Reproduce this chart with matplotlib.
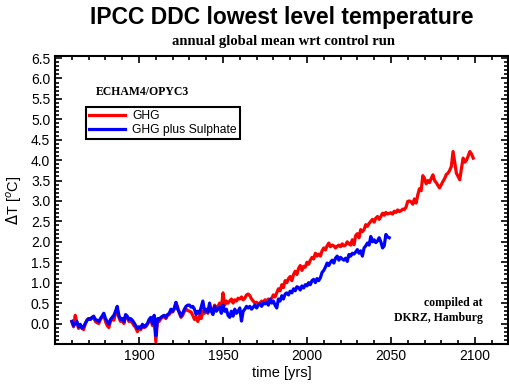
import numpy as np
import matplotlib
matplotlib.use("Agg")
import matplotlib.pyplot as plt
from matplotlib.ticker import MultipleLocator

# yearly global mean lowest-level temperature change (deg C)
ghg_years = np.arange(1860, 2100)
ghg = [
    0.05, -0.08, 0.20, 0.02, -0.12, -0.05, -0.10, -0.15, 0.00, 0.08,
    0.12, 0.10, 0.15, 0.14, 0.05, 0.02, 0.00, 0.10, 0.15, 0.22,
    0.05, -0.05, -0.10, 0.05, 0.12, 0.08, 0.25, 0.30, 0.15, 0.05,
    0.10, 0.00, 0.18, 0.15, 0.05, 0.08, 0.02, -0.05, -0.10, -0.20,
    -0.12, -0.15, -0.05, -0.10, -0.08, -0.02, 0.05, 0.10, -0.05, 0.15,
    -0.45, 0.10, 0.05, 0.12, 0.15, 0.18, 0.12, 0.20, 0.22, 0.30,
    0.28, 0.35, 0.50, 0.40, 0.25, 0.15, 0.20, 0.30, 0.35, 0.32,
    0.30, 0.28, 0.20, 0.10, 0.15, 0.05, 0.20, 0.12, 0.30, 0.25,
    0.32, 0.25, 0.40, 0.35, 0.30, 0.45, 0.38, 0.42, 0.50, 0.35,
    0.75, 0.45, 0.55, 0.50, 0.55, 0.60, 0.50, 0.58, 0.55, 0.62,
    0.60, 0.65, 0.58, 0.62, 0.70, 0.72, 0.68, 0.60, 0.55, 0.50,
    0.52, 0.48, 0.50, 0.55, 0.52, 0.58, 0.55, 0.60, 0.58, 0.62,
    0.70, 0.65, 0.75, 0.85, 0.80, 0.95, 0.88, 1.05, 1.00, 1.10,
    1.15, 1.05, 1.20, 1.28, 1.20, 1.35, 1.42, 1.30, 1.40, 1.38,
    1.50, 1.45, 1.55, 1.62, 1.58, 1.72, 1.65, 1.70, 1.65, 1.78,
    1.85, 1.80, 1.90, 1.97, 1.88, 1.92, 1.90, 1.85, 1.89, 1.92,
    1.88, 1.95, 1.90, 1.92, 2.00, 1.95, 1.92, 2.05, 1.93, 2.15,
    2.20, 2.10, 2.30, 2.25, 2.30, 2.42, 2.38, 2.45, 2.50, 2.55,
    2.48, 2.58, 2.62, 2.55, 2.62, 2.70, 2.65, 2.72, 2.68, 2.70,
    2.71, 2.68, 2.75, 2.72, 2.78, 2.74, 2.76, 2.80, 2.79, 2.85,
    2.99, 3.00, 2.98, 2.92, 3.05, 2.95, 3.15, 3.30, 3.25, 3.62,
    3.55, 3.42, 3.50, 3.45, 3.55, 3.64, 3.50, 3.45, 3.38, 3.32,
    3.40, 3.48, 3.55, 3.65, 3.68, 3.75, 3.85, 4.21, 3.95, 3.68,
    3.60, 3.52, 3.80, 4.05, 3.95, 4.00, 4.10, 4.21, 4.15, 4.05,
]

sul_years = np.arange(1860, 2050)
ghg_sul = [
    0.05, -0.05, 0.00, 0.05, -0.08, -0.02, -0.12, -0.08, 0.00, 0.08,
    0.12, 0.10, 0.15, 0.18, 0.10, 0.08, 0.05, 0.12, 0.18, 0.25,
    0.12, 0.05, -0.02, 0.10, 0.15, 0.20, 0.30, 0.42, 0.20, 0.10,
    0.12, 0.05, 0.22, 0.18, 0.10, 0.12, 0.08, 0.02, -0.05, -0.12,
    -0.08, -0.12, -0.02, -0.08, -0.05, 0.00, 0.10, 0.15, 0.00, 0.20,
    -0.30, 0.12, 0.10, 0.15, 0.18, 0.20, 0.15, 0.22, 0.25, 0.35,
    0.30, 0.38, 0.52, 0.35, 0.28, 0.18, 0.25, 0.35, 0.42, 0.45,
    0.45, 0.40, 0.42, 0.35, 0.22, 0.30, 0.25, 0.40, 0.55, 0.30,
    0.35, 0.28, 0.50, 0.30, 0.22, 0.42, 0.30, 0.35, 0.40, 0.25,
    0.45, 0.30, 0.35, 0.20, 0.15, 0.30, 0.18, 0.35, 0.25, 0.30,
    0.38, 0.06, 0.30, 0.35, 0.42, 0.38, 0.42, 0.35, 0.40, 0.45,
    0.38, 0.45, 0.48, 0.42, 0.50, 0.48, 0.52, 0.45, 0.59, 0.50,
    0.55, 0.45, 0.38, 0.60, 0.55, 0.68, 0.60, 0.72, 0.75, 0.70,
    0.79, 0.75, 0.85, 0.80, 0.90, 0.88, 0.82, 0.92, 0.87, 0.95,
    0.92, 1.00, 0.95, 1.05, 1.08, 1.00, 1.10, 1.05, 1.12, 1.25,
    1.30, 1.38, 1.48, 1.42, 1.50, 1.55, 1.48, 1.60, 1.65, 1.55,
    1.62, 1.58, 1.55, 1.60, 1.52, 1.69, 1.65, 1.72, 1.70, 1.75,
    1.81, 1.72, 1.78, 1.65, 1.85, 1.90, 1.97, 1.92, 2.13, 2.00,
    2.05, 1.98, 2.02, 2.10, 2.00, 1.85, 1.90, 2.18, 2.12, 2.10,
]

SANS = "Liberation Sans"
SERIF = "Liberation Serif"

fig = plt.figure(figsize=(5.10, 3.86), dpi=100)
ax = fig.add_axes([0.108, 0.109, 0.889, 0.746])

ax.plot(ghg_years, ghg, color="#ff0000", lw=2.3, label="GHG")
ax.plot(sul_years, ghg_sul, color="#0000ff", lw=2.3, label="GHG plus Sulphate")

ax.set_xlim(1850, 2120)
ax.set_ylim(-0.5, 6.55)
ax.set_yticks(np.arange(0, 6.51, 0.5))
ax.set_yticklabels([f"{v:.1f}" for v in np.arange(0, 6.51, 0.5)])
ax.xaxis.set_major_locator(MultipleLocator(50))
ax.xaxis.set_minor_locator(MultipleLocator(10))
ax.yaxis.set_minor_locator(MultipleLocator(0.1))
ax.set_xticks([1900, 1950, 2000, 2050, 2100])
ax.tick_params(which="both", direction="in", top=True, right=True,
               labelsize=10, width=1.2)
ax.tick_params(which="major", length=5)
ax.tick_params(which="minor", length=3)
for lbl in ax.get_xticklabels() + ax.get_yticklabels():
    lbl.set_family(SANS)
for s in ax.spines.values():
    s.set_linewidth(1.5)

ax.set_xlabel("time [yrs]", family=SANS, fontsize=10.5, labelpad=2)
ax.set_ylabel(r"$\Delta$T [$^o$C]", family=SANS, fontsize=10.5, labelpad=5)

fig.text(0.553, 0.985, "IPCC DDC lowest level temperature", ha="center",
         va="top", family=SANS, weight="bold", fontsize=16.5)
fig.text(0.555, 0.893, "annual global mean wrt control run", ha="center",
         va="center", family=SERIF, weight="bold", fontsize=10.5)

ax.text(0.09, 0.875, "ECHAM4/OPYC3", transform=ax.transAxes,
        family=SERIF, weight="bold", fontsize=8.5, va="center")
ax.text(0.943, 0.142, "compiled at", transform=ax.transAxes, ha="right",
        family=SERIF, weight="bold", fontsize=8.5, va="center")
ax.text(0.943, 0.090, "DKRZ, Hamburg", transform=ax.transAxes, ha="right",
        family=SERIF, weight="bold", fontsize=8.5, va="center")

leg = ax.legend(loc="upper left", bbox_to_anchor=(0.068, 0.823),
                prop={"family": SANS, "size": 8.7}, fancybox=False,
                framealpha=1, edgecolor="black", handlelength=3.0,
                borderpad=0.25, labelspacing=0.2, handletextpad=0.6,
                borderaxespad=0)
leg.get_frame().set_linewidth(1.5)

fig.savefig("out.png", dpi=100)
